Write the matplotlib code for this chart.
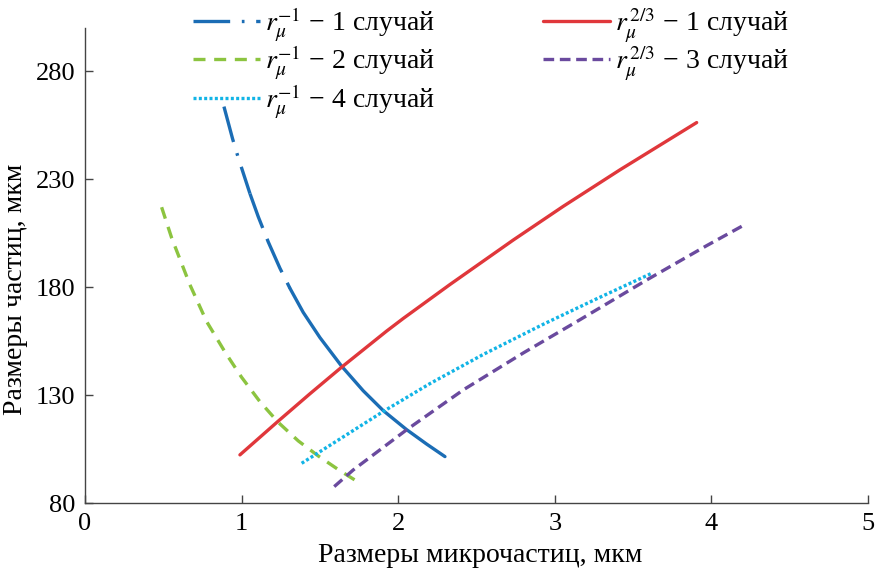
import matplotlib
matplotlib.use("Agg")
import matplotlib.pyplot as plt

plt.rcParams['font.family'] = ['Liberation Serif', 'DejaVu Serif']
plt.rcParams['mathtext.fontset'] = 'stix'

# r^-1, случай 1
x_b1 = [0.888, 0.943, 0.979, 1.054, 1.107, 1.171, 1.245, 1.309, 1.394, 1.501,
        1.639, 1.777, 1.905, 2.054, 2.182, 2.299]
y_b1 = [263.6, 248.7, 240.0, 223.3, 212.6, 200.9, 188.8, 179.5, 168.3, 156.6,
        143.4, 132.0, 122.8, 114.0, 107.3, 101.5]
# r^-1, случай 2
x_g2 = [0.490, 0.554, 0.670, 0.777, 0.894, 1.000, 1.117, 1.234, 1.362, 1.490,
        1.628, 1.767]
y_g2 = [217.0, 202.8, 181.2, 164.1, 150.0, 138.3, 127.0, 117.4, 108.8, 101.8,
        95.0, 88.7]
# r^-1, случай 4
x_c4 = [1.384, 1.905, 2.203, 2.543, 2.927, 3.268, 3.619]
y_c4 = [98.4, 122.4, 135.3, 148.8, 162.8, 174.6, 186.4]
# r^2/3, случай 1
x_r1 = [0.990, 1.234, 1.437, 1.639, 1.926, 2.033, 2.331, 2.735, 3.054, 3.416,
        3.906]
y_r1 = [102.3, 117.9, 130.6, 142.9, 159.6, 165.5, 181.2, 201.8, 217.4, 234.3,
        256.2]
# r^2/3, случай 3
x_p3 = [1.592, 1.713, 2.054, 2.416, 2.799, 3.161, 3.587, 3.970, 4.215]
y_p3 = [87.6, 95.3, 113.9, 132.4, 149.5, 164.9, 183.3, 199.2, 209.0]

lab_b1 = r'$r_{\mu}^{-1}$ − 1 случай'
lab_g2 = r'$r_{\mu}^{-1}$ − 2 случай'
lab_c4 = r'$r_{\mu}^{-1}$ − 4 случай'
lab_r1 = r'$r_{\mu}^{\,2/3}$ − 1 случай'
lab_p3 = r'$r_{\mu}^{\,2/3}$ − 3 случай'

fs = 20
fig = plt.figure(figsize=(8.75, 5.68), dpi=100)
ax = fig.add_axes([0.097, 0.1144, 0.895, 0.8363])

lw = 2.4
blue = '#1b6db5'
# верх штрих-пунктиром, потом штрихи, потом сплошная
hb, = ax.plot(x_b1[:4], y_b1[:4], color=blue, lw=lw,
              dashes=[11, 3.5, 0.8, 3.5], label=lab_b1)
ax.plot(x_b1[3:8], y_b1[3:8], color=blue, lw=lw, dashes=[11, 3.5])
ax.plot(x_b1[7:], y_b1[7:], color=blue, lw=lw, solid_capstyle='round')
hg, = ax.plot(x_g2, y_g2, color='#8cc440', lw=lw, dashes=[3.6, 2.6], label=lab_g2)
hc, = ax.plot(x_c4, y_c4, color='#12b4e6', lw=lw, dashes=[0.9, 0.7], label=lab_c4)
hr, = ax.plot(x_r1, y_r1, color='#e0373b', lw=lw, solid_capstyle='round', label=lab_r1)
hp, = ax.plot(x_p3, y_p3, color='#6a4a9e', lw=lw, dashes=[3.2, 1.7], label=lab_p3)

ax.set_xlim(0, 5)
ax.set_ylim(80, 300)
ax.set_xticks([0, 1, 2, 3, 4, 5])
ax.set_yticks([80, 130, 180, 230, 280])
ax.spines['top'].set_visible(False)
ax.spines['right'].set_visible(False)
for s in ['left', 'bottom']:
    ax.spines[s].set_color('#444444')
    ax.spines[s].set_linewidth(1.0)
ax.tick_params(direction='in', length=6, width=1.0, color='#444444',
               labelsize=19, pad=7)
ax.set_xlabel('Размеры микрочастиц, мкм', fontsize=fs)
ax.set_ylabel('Размеры частиц, мкм', fontsize=fs)
ax.xaxis.set_label_coords(0.505, -0.085)
ax.yaxis.set_label_coords(-0.072, 0.45)

fig.legend(handles=[hb, hg, hc, hr, hp], ncol=2, frameon=False,
           loc='upper left', bbox_to_anchor=(0.192, 1.035), fontsize=fs,
           handlelength=2.4, handletextpad=0.2, columnspacing=3.9,
           labelspacing=0.0)

fig.savefig('out.png', dpi=100)
